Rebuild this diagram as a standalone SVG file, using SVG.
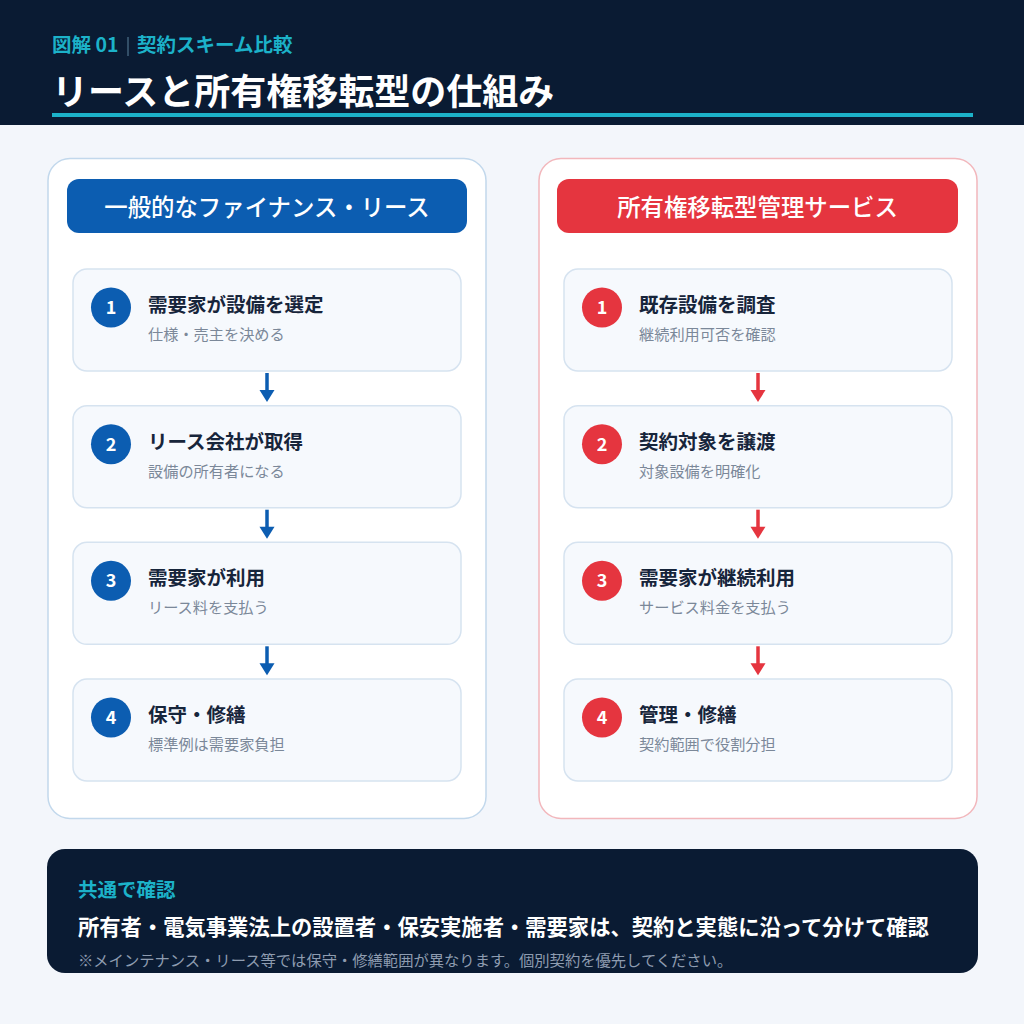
<svg xmlns="http://www.w3.org/2000/svg" width="1024" height="1024" viewBox="0 0 1024 1024">
<style>
text{font-family:"Noto Sans CJK JP","Noto Sans",sans-serif}
.sub{fill:#1cb2c9;font-size:19.5px;font-weight:700}
.title{fill:#ffffff;font-size:36px;font-weight:700}
.pilltx{fill:#ffffff;font-size:23.4px;font-weight:500;text-anchor:middle}
.box{fill:#f6f9fd;stroke:#d6e3f0;stroke-width:1.5}
.st{fill:#17253b;font-size:19.5px;font-weight:700}
.sd{fill:#7b8899;font-size:15.2px}
.num{fill:#ffffff;font-size:18px;font-weight:700;text-anchor:middle}
.blue{fill:#0c5db1}
.red{fill:#e5353f}
</style>
<rect x="0" y="0" width="1024" height="1024" fill="#f3f6fb"/>
<g id="header">
<rect x="0" y="0" width="1024" height="125" fill="#0a1b33"/>
<text class="sub" x="52" y="52">図解 01</text>
<line x1="128" y1="37" x2="128" y2="56" stroke="#41607a" stroke-width="1.5"/>
<text class="sub" x="137" y="52">契約スキーム比較</text>
<text class="title" x="52" y="105">リースと所有権移転型の仕組み</text>
<rect x="52" y="113" width="921" height="4" fill="#1cb2c9"/>
</g>
<g id="panel-left">
<rect x="48" y="158.5" width="438" height="660" rx="22" fill="#ffffff" stroke="#c2d8ec" stroke-width="1.5"/>
<rect x="67" y="179" width="400" height="54" rx="12" class="blue"/>
<text class="pilltx" x="267" y="216">一般的なファイナンス・リース</text>
</g>
<g id="panel-right">
<rect x="539" y="158.5" width="438" height="660" rx="22" fill="#ffffff" stroke="#f2b7bc" stroke-width="1.5"/>
<rect x="557" y="179" width="401" height="54" rx="12" class="red"/>
<text class="pilltx" x="757.5" y="216">所有権移転型管理サービス</text>
</g>
<g id="connectors">
<g fill="#0c5db1" stroke="#0c5db1">
<line x1="267" y1="373" x2="267" y2="391" stroke-width="3.5"/>
<polygon points="259.5,390 274.5,390 267,402" stroke="none"/>
<line x1="267" y1="509.7" x2="267" y2="527.7" stroke-width="3.5"/>
<polygon points="259.5,526.7 274.5,526.7 267,538.7" stroke="none"/>
<line x1="267" y1="646.3" x2="267" y2="664.3" stroke-width="3.5"/>
<polygon points="259.5,663.3 274.5,663.3 267,675.3" stroke="none"/>
</g>
<g fill="#e5353f" stroke="#e5353f">
<line x1="758" y1="373" x2="758" y2="391" stroke-width="3.5"/>
<polygon points="750.5,390 765.5,390 758,402" stroke="none"/>
<line x1="758" y1="509.7" x2="758" y2="527.7" stroke-width="3.5"/>
<polygon points="750.5,526.7 765.5,526.7 758,538.7" stroke="none"/>
<line x1="758" y1="646.3" x2="758" y2="664.3" stroke-width="3.5"/>
<polygon points="750.5,663.3 765.5,663.3 758,675.3" stroke="none"/>
</g>
</g>
<g id="L1"><rect class="box" x="73" y="269" width="388" height="102" rx="14"/><circle class="blue" cx="111" cy="307.5" r="20"/><text class="num" x="111" y="314">1</text><text class="st" x="148" y="312">需要家が設備を選定</text><text class="sd" x="148" y="340">仕様・売主を決める</text></g>
<g id="L2"><rect class="box" x="73" y="405.7" width="388" height="102" rx="14"/><circle class="blue" cx="111" cy="444.2" r="20"/><text class="num" x="111" y="450.7">2</text><text class="st" x="148" y="448.7">リース会社が取得</text><text class="sd" x="148" y="476.7">設備の所有者になる</text></g>
<g id="L3"><rect class="box" x="73" y="542.3" width="388" height="102" rx="14"/><circle class="blue" cx="111" cy="580.8" r="20"/><text class="num" x="111" y="587.3">3</text><text class="st" x="148" y="585.3">需要家が利用</text><text class="sd" x="148" y="613.3">リース料を支払う</text></g>
<g id="L4"><rect class="box" x="73" y="679" width="388" height="102" rx="14"/><circle class="blue" cx="111" cy="717.5" r="20"/><text class="num" x="111" y="724">4</text><text class="st" x="148" y="722">保守・修繕</text><text class="sd" x="148" y="750">標準例は需要家負担</text></g>
<g id="R1"><rect class="box" x="564" y="269" width="388" height="102" rx="14"/><circle class="red" cx="602" cy="307.5" r="20"/><text class="num" x="602" y="314">1</text><text class="st" x="639" y="312">既存設備を調査</text><text class="sd" x="639" y="340">継続利用可否を確認</text></g>
<g id="R2"><rect class="box" x="564" y="405.7" width="388" height="102" rx="14"/><circle class="red" cx="602" cy="444.2" r="20"/><text class="num" x="602" y="450.7">2</text><text class="st" x="639" y="448.7">契約対象を譲渡</text><text class="sd" x="639" y="476.7">対象設備を明確化</text></g>
<g id="R3"><rect class="box" x="564" y="542.3" width="388" height="102" rx="14"/><circle class="red" cx="602" cy="580.8" r="20"/><text class="num" x="602" y="587.3">3</text><text class="st" x="639" y="585.3">需要家が継続利用</text><text class="sd" x="639" y="613.3">サービス料金を支払う</text></g>
<g id="R4"><rect class="box" x="564" y="679" width="388" height="102" rx="14"/><circle class="red" cx="602" cy="717.5" r="20"/><text class="num" x="602" y="724">4</text><text class="st" x="639" y="722">管理・修繕</text><text class="sd" x="639" y="750">契約範囲で役割分担</text></g>
<g id="footer">
<rect x="47" y="849" width="931" height="124" rx="18" fill="#0a1b33"/>
<text x="78" y="897" fill="#1cb2c9" font-size="19.5" font-weight="700">共通で確認</text>
<text x="78" y="935" fill="#ffffff" font-size="21.3" font-weight="700">所有者・電気事業法上の設置者・保安実施者・需要家は、契約と実態に沿って分けて確認</text>
<text x="78" y="966" fill="#8e9cb0" font-size="15.3">※メインテナンス・リース等では保守・修繕範囲が異なります。個別契約を優先してください。</text>
</g>
</svg>
